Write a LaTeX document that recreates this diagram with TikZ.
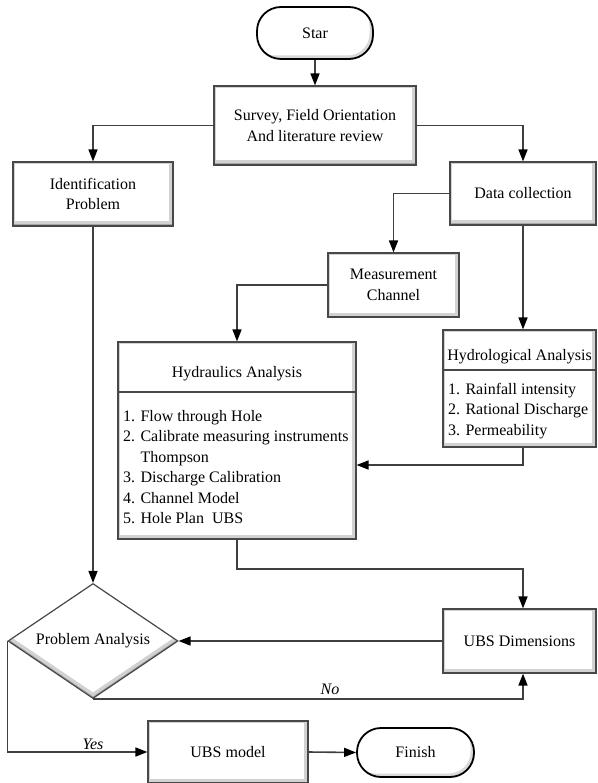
\documentclass[tikz,border=0pt]{standalone}
\usepackage{fontspec}
\setmainfont{Liberation Serif}
\usetikzlibrary{arrows.meta,shapes.geometric}
\definecolor{linecol}{RGB}{64,64,64}
\definecolor{boxcol}{RGB}{72,72,72}
\begin{document}
\begin{tikzpicture}[x=1pt,y=-1pt,
  font=\fontsize{16}{20.5}\selectfont,
  bevel/.style={path picture={
    \fill[gray!70] (path picture bounding box.south west) rectangle (path picture bounding box.north east);
    \fill[gray!35] ([shift={(-1.5pt,1.5pt)}]path picture bounding box.south west) rectangle ([shift={(-1.5pt,1.5pt)}]path picture bounding box.north east);
    \fill[white] ([shift={(-4.5pt,4.5pt)}]path picture bounding box.south west) rectangle ([shift={(-4.5pt,4.5pt)}]path picture bounding box.north east);
    \draw[gray!35, line width=1pt] ([shift={(1.5pt,4.5pt)}]path picture bounding box.south west) -- ([shift={(1.5pt,-1.5pt)}]path picture bounding box.north west) -- ([shift={(-4.5pt,-1.5pt)}]path picture bounding box.north east);
  }},
  tbevel/.style={path picture={
    \fill[gray!65] (path picture bounding box.south west) rectangle (path picture bounding box.north east);
    \fill[gray!30, rounded corners=22pt] ([shift={(-1.2pt,1.2pt)}]path picture bounding box.south west) rectangle ([shift={(-1.2pt,1.2pt)}]path picture bounding box.north east);
    \fill[white, rounded corners=22pt] ([shift={(-3.5pt,3.5pt)}]path picture bounding box.south west) rectangle ([shift={(-3.5pt,3.5pt)}]path picture bounding box.north east);
  }},
  dbevel/.style={path picture={
    \fill[gray!70] (path picture bounding box.south west) rectangle (path picture bounding box.north east);
    \fill[gray!35] ([yshift=2pt]path picture bounding box.west) -- ([yshift=2pt]path picture bounding box.north) -- ([yshift=2pt]path picture bounding box.east) -- ([yshift=2pt]path picture bounding box.south) -- cycle;
    \fill[white] ([yshift=6pt]path picture bounding box.west) -- ([yshift=6pt]path picture bounding box.north) -- ([yshift=6pt]path picture bounding box.east) -- ([yshift=6pt]path picture bounding box.south) -- cycle;
  }},
  box/.style={rectangle, draw=boxcol, line width=1.2pt, align=center, inner sep=2pt, bevel},
  term/.style={rectangle, rounded corners=24pt, draw=black, line width=1.8pt, align=center, tbevel},
  decision/.style={diamond, shape aspect=1.48, draw=boxcol, line width=1.2pt, inner sep=1pt, align=center, dbevel},
  conn/.style={draw=linecol, line width=1.6pt, -{Triangle[length=12pt,width=9pt,color=black]}},
  lbl/.style={inner sep=1pt, font=\fontsize{16}{20.5}\selectfont\itshape}
]
\useasboundingbox (0,0) rectangle (597,783);
\fill[white] (0,0) rectangle (597,783);

% nodes
\node[term, minimum width=116pt, minimum height=52pt] (star) at (315,33) {Star};
\node[box, minimum width=202pt, minimum height=79pt] (survey) at (315,125.5) {Survey, Field Orientation\\And literature review};
\node[box, minimum width=160pt, minimum height=64pt] (ident) at (93,194) {Identification\\Problem};
\node[box, minimum width=146pt, minimum height=63pt] (data) at (523,193.5) {Data collection};
\node[box, minimum width=131pt, minimum height=64pt] (meas) at (393.5,285) {Measurement\\Channel};
\node[box, minimum width=238pt, minimum height=197pt] (hydra) at (237,440.5) {};
\node[box, minimum width=153pt, minimum height=117pt] (hydro) at (519.5,388.5) {};
\draw[boxcol, line width=1.2pt] (118,392) -- (356,392);
\draw[boxcol, line width=1.2pt] (443,370) -- (596,370);
\node[inner sep=1pt] (hydraT) at (237,374) {Hydraulics Analysis};
\node[anchor=north west, inner sep=0pt, align=left] (hydraL) at (123,410) {1. Flow through Hole\\2. Calibrate measuring instruments\\\phantom{2. }Thompson\\3. Discharge Calibration\\4. Channel Model\\5. Hole Plan\ \ UBS};
\node[inner sep=1pt] (hydroT) at (519.5,357) {Hydrological Analysis};
\node[anchor=north west, inner sep=0pt, align=left] (hydroL) at (448,383) {1. Rainfall intensity\\2. Rational Discharge\\3. Permeability};
\node[box, minimum width=153pt, minimum height=64pt] (dim) at (519.5,641) {UBS Dimensions};
\node[decision, minimum width=170pt, minimum height=115pt] (dec) at (93,641) {Problem Analysis};
\node[box, minimum width=160pt, minimum height=62pt] (model) at (228,752) {UBS model};
\node[term, minimum width=117pt, minimum height=49pt] (finish) at (415.5,752.5) {Finish};

% helper coordinates
\coordinate (c1) at (523,465);
\coordinate (c2) at (523,569);

% connectors
\draw[conn] (star.south) -- (survey.north);
\draw[conn] (survey.west) -| (ident.north);
\draw[conn] (survey.east) -| (data.north);
\draw[conn] (data.west) -| (meas.north);
\draw[conn] (meas.west) -| (hydra.north);
\draw[conn] (data.south) -- (data.south |- hydro.north);
\draw[conn] (data.south |- hydro.south) -- (c1) -- (c1 -| hydra.east);
\draw[conn] (ident.south) -- (dec.north);
\draw[conn] (hydra.south) |- (c2) -- (c2 |- dim.north);
\draw[conn] (dim.west) -- (dec.east);
\draw[conn] (dec.south) -- (dec.south -| c2) -- (c2 |- dim.south);
\draw[conn] (dec.west) |- (model.west);
\draw[conn] (model.east) -- (finish.west);

% labels
\node[lbl] (no) at (330,689) {No};
\node[lbl] (yes) at (93,744) {Yes};
\end{tikzpicture}
\end{document}
